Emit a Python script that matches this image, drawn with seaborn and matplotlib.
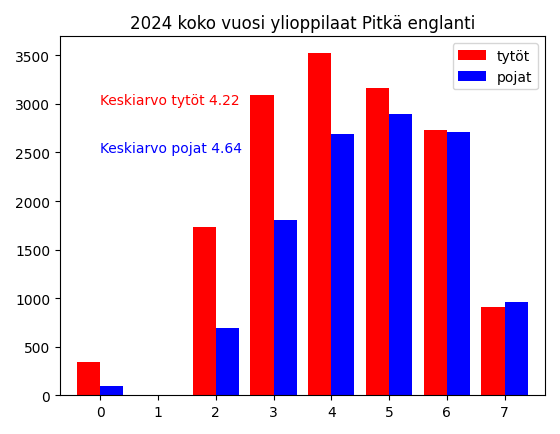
import pandas as pd
import matplotlib.pyplot as plt
import seaborn as sns

arvosanat = [0, 1, 2, 3, 4, 5, 6, 7]
tytot = [340, 0, 1730, 3090, 3520, 3160, 2730, 910]
pojat = [100, 0, 690, 1800, 2690, 2900, 2710, 960]

df = pd.DataFrame({
    'arvosana': arvosanat * 2,
    'lkm': tytot + pojat,
    'ryhma': ['tytöt'] * len(arvosanat) + ['pojat'] * len(arvosanat),
})

fig, ax = plt.subplots(figsize=(5.6, 4.35), dpi=100)
sns.barplot(data=df, x='arvosana', y='lkm', hue='ryhma',
            palette={'tytöt': 'red', 'pojat': 'blue'},
            saturation=1, width=0.8, ax=ax)
ax.set_title("2024 koko vuosi ylioppilaat Pitkä englanti")
ax.set_xlabel("")
ax.set_ylabel("")
ax.set_xlim(-0.7, 7.7)
ax.text(0, 3000, "Keskiarvo tytöt 4.22", color='red')
ax.text(0, 2500, "Keskiarvo pojat 4.64", color='blue')
ax.legend(title=None, loc='upper right')
plt.tight_layout()
fig.savefig("out.png")
